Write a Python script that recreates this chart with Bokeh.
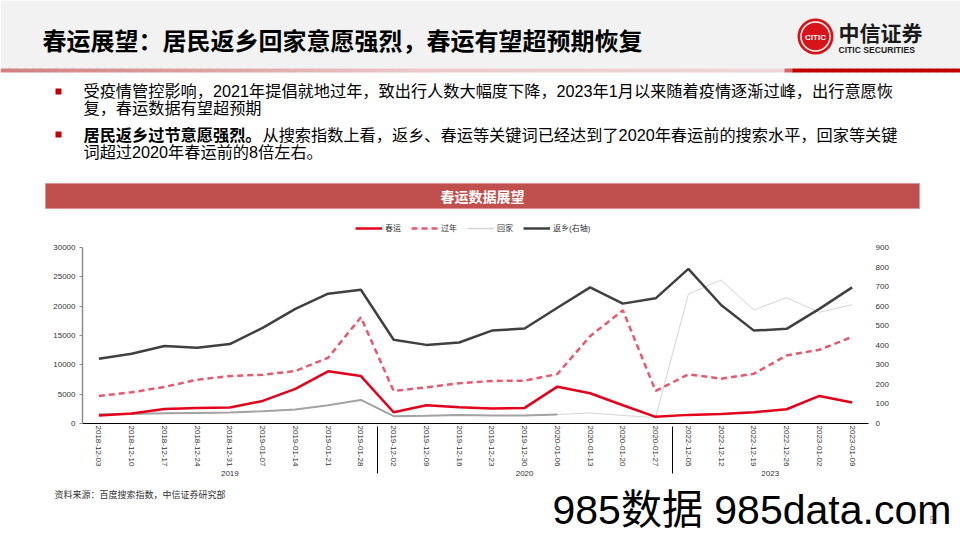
from bokeh.plotting import figure
from bokeh.layouts import column
from bokeh.models import (FactorRange, Range1d, LinearAxis, SingleIntervalTicker, Label,
                          Legend, LegendItem, ColumnDataSource)
from bokeh.embed import file_html
from bokeh.resources import INLINE

# ---------------- data ----------------
groups = ["2019", "2020", "2023"]
dates_2019 = ["2018-12-03", "2018-12-10", "2018-12-17", "2018-12-24", "2018-12-31",
              "2019-01-07", "2019-01-14", "2019-01-21", "2019-01-28"]
dates_2020 = ["2019-12-02", "2019-12-09", "2019-12-16", "2019-12-23", "2019-12-30",
              "2020-01-06", "2020-01-13", "2020-01-20", "2020-01-27"]
dates_2023 = ["2022-12-05", "2022-12-12", "2022-12-19", "2022-12-26", "2023-01-02", "2023-01-09"]

chunyun = [1360, 1700, 2490, 2660, 2720, 3850, 5890, 8890, 8090,
           1920, 3110, 2770, 2550, 2660, 6280, 5150, 3110, 1130,
           1470, 1640, 1920, 2430, 4700, 3570]
guonian = [4700, 5320, 6230, 7470, 8090, 8320, 8940, 11210, 18110,
           5550, 6170, 6850, 7250, 7300, 8430, 14890, 19300, 5550,
           8380, 7640, 8490, 11600, 12570, 14770]
huijia = [1590, 1640, 1760, 1810, 1870, 2090, 2380, 3110, 4020,
          1250, 1300, 1470, 1360, 1360, 1530, 1810, 1360, 1020,
          22070, 24450, 19360, 21450, 18960, 20260]
fanxiang = [331, 357, 396, 387, 406, 489, 586, 664, 684,
            428, 402, 414, 475, 486, 592, 696, 613, 640,
            791, 606, 475, 484, 586, 696]
huijia_bold_count = 15          # first points drawn in the darker grey style

series_names = ["春运", "过年", "回家", "返乡(右轴)"]
left_max, left_step = 30000, 5000
right_max, right_step = 900, 100

title_text = "春运展望：居民返乡回家意愿强烈，春运有望超预期恢复"
bullet1_l1 = "受疫情管控影响，2021年提倡就地过年，致出行人数大幅度下降，2023年1月以来随着疫情逐渐过峰，出行意愿恢"
bullet1_l2 = "复，春运数据有望超预期"
bullet2_bold = "居民返乡过节意愿强烈。"
bullet2_l1 = "从搜索指数上看，返乡、春运等关键词已经达到了2020年春运前的搜索水平，回家等关键"
bullet2_l2 = "词超过2020年春运前的8倍左右。"
chart_title = "春运数据展望"
source_text = "资料来源：百度搜索指数，中信证券研究部"
watermark = "985数据 985data.com"
page_no = "5"

factors = [(g, d) for g, ds in zip(groups, [dates_2019, dates_2020, dates_2023]) for d in ds]

# ---------------- styles ----------------
W = 960
CJK = "'Liberation Sans', 'Noto Sans CJK SC'"
SANS = "'Liberation Sans', 'Noto Sans CJK SC'"
C_CY, C_GN, C_HJ, C_HJ2, C_FX = "#e3001b", "#e8596f", "#d4d4d4", "#a3a3a3", "#404040"


def deco_figure(h, y0):
    """A figure whose frame is the whole canvas; data units = page pixels (y down)."""
    f = figure(width=W, height=h, x_range=Range1d(0, W), y_range=Range1d(y0 + h, y0),
               output_backend="svg", toolbar_location=None,
               x_axis_location=None, y_axis_location=None,
               min_border=0, min_border_left=0, min_border_right=0,
               min_border_top=0, min_border_bottom=0, frame_align=False)
    f.outline_line_color = None
    f.background_fill_color = "white"
    f.border_fill_color = "white"
    f.xgrid.visible = False
    f.ygrid.visible = False
    return f


def text(f, t, x, y, size, color="#000000", bold=False, align="left", font=CJK):
    f.add_layout(Label(x=x, y=y, text=t, text_font_size=f"{size}px", text_color=color,
                       text_font_style="bold" if bold else "normal",
                       text_align=align, text_baseline="middle", text_font=font))


# ================= top figure (page y 0..240) =================
A_H = 240
top = deco_figure(A_H, 0)
top.quad(left=[0], right=[W], top=[0], bottom=[68], fill_color="#f2f2f2", line_color=None)

# gradient rule under the title band
stops = [(0, (208, 128, 128)), (420, (236, 200, 200)), (780, (240, 215, 215)),
         (795, (192, 0, 0)), (960, (192, 0, 0))]
gl, gr, gc = [], [], []
seg = 8
for x0 in range(0, W, seg):
    xm = x0 + seg / 2
    c = stops[-1][1]
    for (a, ca), (b, cb) in zip(stops[:-1], stops[1:]):
        if a <= xm <= b:
            t = (xm - a) / (b - a)
            c = tuple(int(ca[k] + (cb[k] - ca[k]) * t) for k in range(3))
            break
    gl.append(x0)
    gr.append(x0 + seg + 0.5)
    gc.append("#%02x%02x%02x" % c)
top.quad(left=gl, right=gr, top=[68] * len(gl), bottom=[72] * len(gl), fill_color=gc, line_color=None)

text(top, title_text, 42, 41, 24, "#000000", bold=True)

# logo
top.scatter(x=[815], y=[36], marker="circle", size=36, fill_color="#d7141a", line_color=None)
top.scatter(x=[815], y=[36], marker="circle", size=29, fill_color=None, line_color="white", line_width=1.5)
text(top, "CITIC", 815, 36.5, 8, "white", bold=True, align="center", font="'Liberation Sans'")
text(top, "中信证券", 838, 33, 21, "#1a1a1a", bold=True)
text(top, "CITIC SECURITIES", 838, 49, 8.6, "#1a1a1a", bold=True, font="'Liberation Sans'")

# bullets
top.scatter(x=[58, 58], y=[91, 134], marker="square", size=6, fill_color="#c00000", line_color=None)
text(top, bullet1_l1, 83, 90, 16.2)
text(top, bullet1_l2, 83, 107, 16.2)
text(top, bullet2_bold, 83, 134, 16.2, bold=True)
text(top, bullet2_l1, 262, 134, 16.2)
text(top, bullet2_l2, 83, 151, 16.2)

# chart header bar
top.quad(left=[45], right=[919], top=[183], bottom=[208], fill_color="#c0504d", line_color="#d99694")
text(top, chart_title, 482, 196, 14, "white", bold=True, align="center")

# legend (sample renderers styled like the chart's series, drawn outside the view)
off_x, off_y = [-50, -40], [-50, -50]
lg_cy = top.line(x=off_x, y=off_y, line_color=C_CY, line_width=2.5)
lg_gn = top.line(x=off_x, y=off_y, line_color=C_GN, line_width=2.5, line_dash="6 4")
lg_hj = top.line(x=off_x, y=off_y, line_color=C_HJ, line_width=1.5)
lg_fx = top.line(x=off_x, y=off_y, line_color=C_FX, line_width=2.5)
legend = Legend(items=[LegendItem(label=series_names[0], renderers=[lg_cy]),
                       LegendItem(label=series_names[1], renderers=[lg_gn]),
                       LegendItem(label=series_names[2], renderers=[lg_hj]),
                       LegendItem(label=series_names[3], renderers=[lg_fx])],
                orientation="horizontal", location=(355, A_H - 228 - 5),
                border_line_color=None, background_fill_alpha=0, padding=0, margin=0,
                spacing=10, glyph_width=27, glyph_height=10, label_standoff=3,
                label_width=8, label_height=10, label_text_font_size="8px",
                label_text_font=CJK, label_text_color="#333333")
top.add_layout(legend)

# ================= chart figure (page y 240..486) =================
B_Y0, B_H = 240, 246
FL, FR, FT, FB = 82, 868, 247, 423
p = figure(width=W, height=B_H,
           x_range=FactorRange(*factors, group_padding=0, factor_padding=0, range_padding=0),
           y_range=Range1d(0, left_max),
           output_backend="svg", toolbar_location=None, frame_align=False,
           min_border_left=FL, min_border_right=W - FR,
           min_border_top=FT - B_Y0, min_border_bottom=B_Y0 + B_H - FB,
           background_fill_color="white", border_fill_color="white")
p.outline_line_color = None
p.xgrid.visible = False
p.ygrid.visible = False
p.extra_y_ranges = {"right": Range1d(0, right_max)}

ya = p.yaxis[0]
ya.ticker = SingleIntervalTicker(interval=left_step, num_minor_ticks=0)
ya.axis_line_color = "#8c8c8c"
ya.axis_line_width = 1.5
ya.major_tick_line_color = "#8c8c8c"
ya.major_tick_out = 3
ya.major_tick_in = 0
ya.minor_tick_line_color = None
ya.major_label_standoff = 4
ya.major_label_text_font_size = "8px"
ya.major_label_text_font = SANS
ya.major_label_text_color = "#333333"

ra = LinearAxis(y_range_name="right",
                ticker=SingleIntervalTicker(interval=right_step, num_minor_ticks=0))
ra.axis_line_color = None
ra.major_tick_line_color = None
ra.major_tick_out = 0
ra.major_tick_in = 0
ra.minor_tick_line_color = None
ra.minor_tick_out = 0
ra.major_label_standoff = 7
ra.major_label_text_font_size = "8px"
ra.major_label_text_font = SANS
ra.major_label_text_color = "#333333"
p.add_layout(ra, "right")

xa = p.xaxis[0]
xa.axis_line_color = "black"
xa.axis_line_width = 1
xa.major_tick_line_color = None
xa.major_tick_out = 0
xa.minor_tick_line_color = None
xa.major_label_orientation = "vertical"
xa.major_label_standoff = 2
xa.major_label_text_font_size = "8px"
xa.major_label_text_font = SANS
xa.major_label_text_color = "#333333"
xa.group_text_font_size = "8px"
xa.group_text_font = SANS
xa.group_text_font_style = "normal"
xa.group_text_color = "#333333"
xa.separator_line_color = "black"
xa.separator_line_width = 1

src = ColumnDataSource(dict(x=factors, chunyun=chunyun, guonian=guonian,
                            huijia=huijia, fanxiang=fanxiang))
p.line("x", "huijia", source=src, line_color=C_HJ, line_width=1)
p.line(x=factors[:huijia_bold_count], y=huijia[:huijia_bold_count], line_color=C_HJ2, line_width=2)
p.line("x", "guonian", source=src, line_color=C_GN, line_width=2.5, line_dash="6 4")
p.line("x", "chunyun", source=src, line_color=C_CY, line_width=2.5)
p.line("x", "fanxiang", source=src, y_range_name="right", line_color=C_FX, line_width=2.5)

# ================= bottom figure (page y 486..540) =================
C_Y0, C_H = 486, 54
bot = deco_figure(C_H, C_Y0)
text(bot, source_text, 54, 494, 9, "#333333")
text(bot, page_no, 932, 519, 11, "#999999", align="center")
text(bot, watermark, 552, 509, 41, "#000000", font=SANS)

layout = column(top, p, bot, spacing=0)
open("out.html", "w").write(file_html(layout, INLINE))
